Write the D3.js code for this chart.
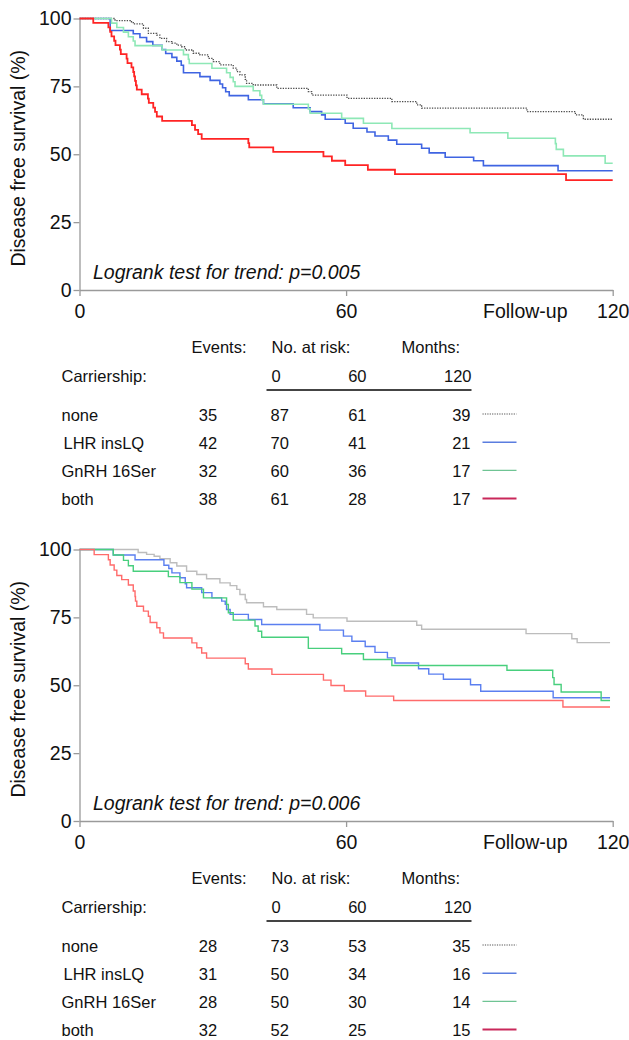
<!DOCTYPE html>
<html>
<head>
<meta charset="utf-8">
<script src="https://cdn.jsdelivr.net/npm/d3@7"></script>
<style>
  body { margin: 0; background: #fff; }
  svg { display: block; font-family: "Liberation Sans", Arial, Helvetica, sans-serif; }
</style>
</head>
<body>
<div id="chart"></div>
<script>
// Kaplan-Meier steps: [month, disease free survival %]
const topNone = [[0,100],[8.0,99.2],[11.4,98.8],[12.1,98.0],[14.4,96.4],[15.5,94.5],[17.4,93.9],[18.1,92.7],[19.6,91.5],[20.8,90.9],[21.9,90.2],[23.0,89.6],[23.8,88.4],[25.6,87.2],[27.1,86.6],[29.0,85.3],[30.1,84.1],[31.6,82.9],[34.6,81.7],[35.4,80.4],[36.1,79.2],[37.3,77.6],[37.6,76.1],[39.1,75.5],[44.4,74.3],[51.5,73.1],[52.3,71.8],[60.2,70.6],[70.3,69.4],[75.9,68.2],[77.0,67.0],[100.7,65.7],[111.6,64.5],[113.4,62.9],[120,62.9]];
const topLhr = [[0,100],[6.9,95.6],[12.1,94.4],[13.6,93.0],[15.1,91.5],[16.5,90.1],[18.6,88.6],[19.4,87.1],[20.8,85.7],[21.9,84.3],[22.9,82.8],[23.4,80.0],[27.1,78.6],[29.4,77.2],[31.6,75.9],[32.2,74.5],[32.9,73.0],[33.7,71.6],[38.0,70.1],[41.4,68.6],[48.1,67.1],[51.9,65.7],[54.5,64.5],[55.3,62.9],[59.8,61.4],[61.6,59.6],[64.7,58.2],[66.5,56.7],[69.5,55.2],[71.4,53.7],[77.0,52.2],[78.7,50.5],[82.3,48.9],[88.7,47.6],[90.9,45.8],[107.7,43.9],[120,43.9]];
const topGnrh = [[0,100],[7.2,98.3],[8.4,96.7],[9.9,95.0],[11.0,93.3],[12.1,91.7],[12.5,90.0],[18.6,88.4],[23.4,86.7],[24.5,85.0],[24.7,83.4],[29.8,81.7],[33.1,80.0],[33.9,78.3],[34.6,76.7],[35.0,75.0],[39.1,73.4],[40.6,71.7],[41.0,70.0],[41.4,68.4],[51.5,66.7],[51.9,65.1],[59.0,63.2],[63.9,61.4],[70.3,59.5],[87.9,57.9],[96.4,55.9],[107.1,53.9],[107.3,51.8],[108.9,49.4],[118.3,46.7],[120,46.7]];
const topBoth = [[0,100],[3.1,98.4],[6.5,96.7],[6.9,95.1],[7.2,93.4],[7.8,91.8],[8.1,90.2],[9.1,88.5],[9.3,86.9],[10.6,85.2],[10.8,83.6],[11.7,82.0],[12.1,80.3],[12.3,78.7],[12.5,77.0],[12.7,75.4],[12.9,73.8],[14.0,72.1],[15.4,70.5],[15.6,68.9],[16.6,67.2],[17.0,65.6],[17.4,63.9],[18.6,62.3],[25.3,60.7],[26.0,59.0],[26.7,57.4],[27.5,55.7],[38.0,54.1],[38.2,52.5],[43.6,50.9],[54.9,49.2],[56.8,47.6],[59.8,46.0],[64.9,44.3],[71.0,42.7],[109.5,40.5],[120,40.5]];

const bottomNone = [[0,100],[13.2,98.9],[15.1,98.2],[16.8,97.5],[18.1,96.6],[20.4,95.1],[21.9,93.9],[24.1,92.0],[26.4,90.8],[28.6,89.2],[31.6,87.7],[33.9,86.7],[35.4,85.3],[36.1,83.4],[37.3,81.6],[37.6,80.4],[41.4,78.9],[44.4,77.9],[51.1,76.1],[52.6,74.8],[60.2,73.6],[75.9,72.1],[77.0,70.6],[100.5,69.0],[110.8,67.1],[112.0,65.7],[119.4,65.7]];
const bottomLhr = [[0,100],[7.6,98.0],[12.5,96.2],[19.0,94.2],[20.1,93.0],[20.8,91.4],[22.6,89.6],[23.8,87.4],[24.1,85.9],[27.5,84.1],[29.8,82.2],[32.0,81.0],[32.8,79.8],[33.1,77.9],[33.9,76.1],[38.0,74.2],[41.0,72.4],[54.1,70.3],[59.4,68.1],[61.3,66.2],[64.3,64.3],[66.5,62.1],[69.3,60.1],[71.0,58.2],[76.3,56.1],[78.6,54.1],[81.9,52.2],[88.0,50.2],[90.3,47.8],[106.6,45.4],[119.4,45.4]];
const bottomGnrh = [[0,100],[7.6,98.0],[9.9,96.0],[11.0,94.0],[12.1,92.0],[20.0,90.0],[22.6,87.8],[25.3,85.4],[27.9,82.2],[33.1,79.8],[33.5,76.7],[34.6,74.0],[39.5,71.8],[40.2,69.9],[41.0,67.7],[51.5,63.6],[59.0,61.6],[63.9,59.5],[70.3,57.3],[96.2,55.5],[106.5,52.8],[106.8,50.3],[108.4,47.5],[117.4,44.4],[119.4,44.4]];
const bottomBoth = [[0,100],[3.3,98.1],[6.5,96.2],[6.9,94.3],[7.8,92.4],[8.4,90.4],[9.5,88.9],[11.0,86.9],[12.1,84.7],[12.5,82.7],[12.6,81.0],[12.9,79.1],[14.4,77.3],[15.5,75.4],[15.9,73.1],[17.4,71.2],[18.1,69.3],[18.9,67.4],[25.3,65.6],[26.4,63.8],[27.5,61.9],[28.6,60.0],[37.3,57.9],[38.0,56.0],[43.3,54.0],[54.9,51.9],[56.6,49.9],[59.6,47.9],[64.4,46.0],[70.7,44.4],[108.8,42.0],[119.4,42.0]];

// table values
const groups = ["none", "LHR insLQ", "GnRH 16Ser", "both"];
const topEvents = [35, 42, 32, 38];
const topRisk0 = [87, 70, 60, 61];
const topRisk60 = [61, 41, 36, 28];
const topRisk120 = [39, 21, 17, 17];
const bottomEvents = [28, 31, 28, 32];
const bottomRisk0 = [73, 50, 50, 52];
const bottomRisk60 = [53, 34, 30, 25];
const bottomRisk120 = [35, 16, 14, 15];

const xTicks = [0, 60, 120];
const yTicks = [0, 25, 50, 75, 100];
const riskMonths = ["0", "60", "120"];
const pTop = "0.005";
const pBottom = "0.006";

const W = 629, H = 1040;
const svg = d3.select('#chart').append('svg')
    .attr('width', W)
    .attr('height', H);

// line colours: top panel / bottom panel / legend swatches
const topStyles = [
    { color: '#4a4a4a', width: 1.3, dash: '1.3,1.3' },
    { color: '#3f64e2', width: 1.6 },
    { color: '#8ee8b6', width: 1.6 },
    { color: '#ff2424', width: 1.8 }
];
const bottomStyles = [
    { color: '#bdbdbd', width: 1.4 },
    { color: '#5b7ff0', width: 1.4 },
    { color: '#48cf7d', width: 1.4 },
    { color: '#ff6b6b', width: 1.4 }
];
const legendStyles = [
    { color: '#8a8a8a', width: 1.3, dash: '1.2,1.2' },
    { color: '#5a7ddf', width: 1.6 },
    { color: '#6fc494', width: 1.4 },
    { color: '#c9285a', width: 2 }
];

function drawPanel(offset, series, styles, pValue, table) {
    const x = d3.scaleLinear().domain([0, 120]).range([79.5, 612.7]);
    const y = d3.scaleLinear().domain([0, 100]).range([290 + offset, 18.5 + offset]);
    const g = svg.append('g');

    // axes
    const yAxis = d3.axisLeft(y).tickValues(yTicks).tickSize(6).tickSizeOuter(0).tickPadding(2);
    const xAxis = d3.axisBottom(x).tickValues(xTicks).tickSize(6).tickSizeOuter(0).tickPadding(8);

    const yG = g.append('g').attr('transform', `translate(${x(0)},0)`).call(yAxis);
    const xG = g.append('g').attr('transform', `translate(0,${y(0)})`).call(xAxis);

    [yG, xG].forEach(a => {
        a.selectAll('path, line').attr('stroke', '#9a9a9a').attr('stroke-width', 1.3);
        a.selectAll('text').attr('fill', '#111').style('font-size', '19.5px');
    });

    g.append('text')
        .attr('transform', `translate(25,${y(50) + 4}) rotate(-90)`)
        .attr('text-anchor', 'middle')
        .style('font-size', '19.5px')
        .attr('fill', '#111')
        .text('Disease free survival (%)');

    g.append('text')
        .attr('x', 483)
        .attr('y', 318 + offset)
        .style('font-size', '19.5px')
        .attr('fill', '#111')
        .text('Follow-up');

    g.append('text')
        .attr('x', 93)
        .attr('y', 278.5 + offset)
        .style('font-size', '19.5px')
        .style('font-style', 'italic')
        .attr('fill', '#111')
        .text(`Logrank test for trend: p=${pValue}`);

    // curves
    const line = d3.line()
        .x(d => x(d[0]))
        .y(d => y(d[1]))
        .curve(d3.curveStepAfter);

    series.forEach((s, i) => {
        g.append('path')
            .datum(s)
            .attr('fill', 'none')
            .attr('stroke', styles[i].color)
            .attr('stroke-width', styles[i].width)
            .attr('stroke-dasharray', styles[i].dash || null)
            .attr('d', line);
    });

    // number at risk table
    const t = g.append('g').style('font-size', '16.5px').attr('fill', '#111');
    const hy = 353 + offset;
    t.append('text').attr('x', 191.5).attr('y', hy).text('Events:');
    t.append('text').attr('x', 271.5).attr('y', hy).text('No. at risk:');
    t.append('text').attr('x', 401.5).attr('y', hy).text('Months:');
    t.append('text').attr('x', 61.5).attr('y', hy + 28.5).text('Carriership:');
    t.append('text').attr('x', 271.5).attr('y', hy + 28.5).text(riskMonths[0]);
    t.append('text').attr('x', 366.5).attr('y', hy + 28.5).attr('text-anchor', 'end').text(riskMonths[1]);
    t.append('text').attr('x', 471.5).attr('y', hy + 28.5).attr('text-anchor', 'end').text(riskMonths[2]);
    t.append('line')
        .attr('x1', 266.5).attr('x2', 471.5)
        .attr('y1', 390 + offset).attr('y2', 390 + offset)
        .attr('stroke', '#444').attr('stroke-width', 2);

    groups.forEach((name, i) => {
        const ry = 420.5 + offset + i * 28.2;
        t.append('text').attr('x', i === 1 ? 63.5 : 61.5).attr('y', ry).text(name);
        t.append('text').attr('x', 208).attr('y', ry).attr('text-anchor', 'middle').text(table.events[i]);
        t.append('text').attr('x', 270.5).attr('y', ry).text(table.risk0[i]);
        t.append('text').attr('x', 366.5).attr('y', ry).attr('text-anchor', 'end').text(table.risk60[i]);
        t.append('text').attr('x', 470.5).attr('y', ry).attr('text-anchor', 'end').text(table.risk120[i]);
        t.append('line')
            .attr('x1', 482.5).attr('x2', 516.5)
            .attr('y1', ry - 6.5).attr('y2', ry - 6.5)
            .attr('stroke', legendStyles[i].color)
            .attr('stroke-width', legendStyles[i].width)
            .attr('stroke-dasharray', legendStyles[i].dash || null);
    });
}

drawPanel(0, [topNone, topLhr, topGnrh, topBoth], topStyles, pTop,
    { events: topEvents, risk0: topRisk0, risk60: topRisk60, risk120: topRisk120 });
drawPanel(531, [bottomNone, bottomLhr, bottomGnrh, bottomBoth], bottomStyles, pBottom,
    { events: bottomEvents, risk0: bottomRisk0, risk60: bottomRisk60, risk120: bottomRisk120 });
</script>
</body>
</html>
